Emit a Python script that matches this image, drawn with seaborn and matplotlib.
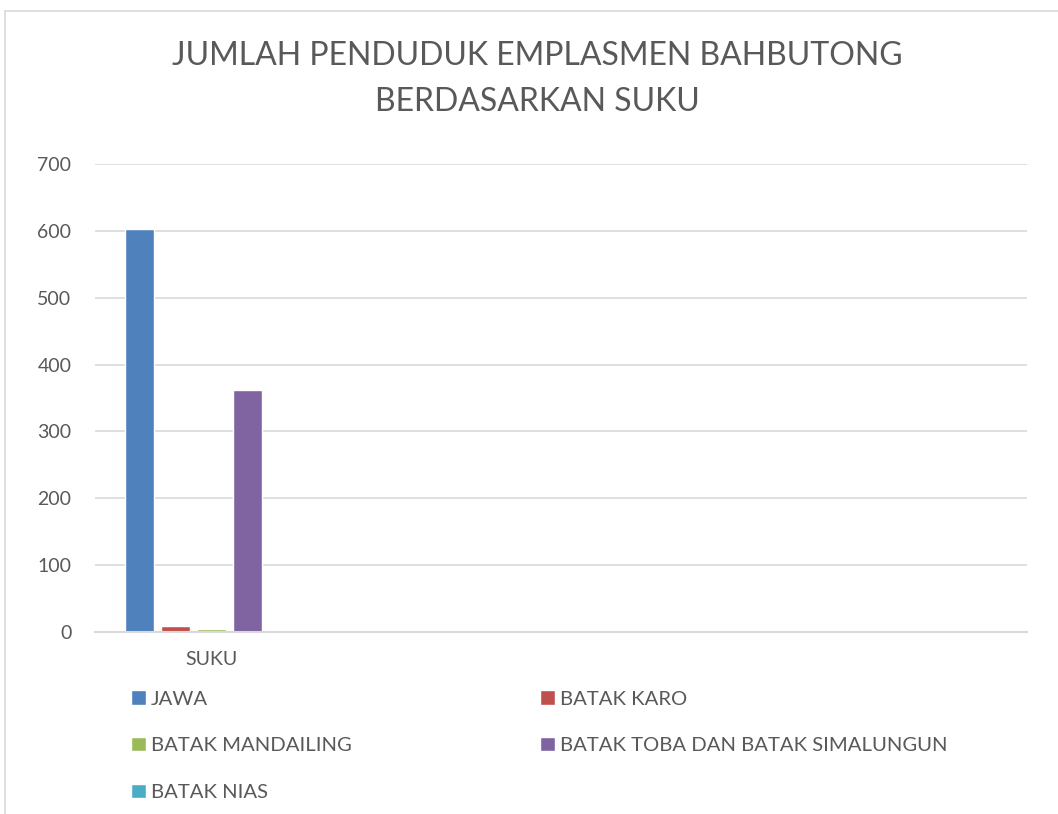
import pandas as pd
import seaborn as sns
import matplotlib.pyplot as plt
from matplotlib.lines import Line2D

# data
kategori = ['SUKU']
suku = ['JAWA', 'BATAK KARO', 'BATAK MANDAILING',
        'BATAK TOBA DAN BATAK SIMALUNGUN', 'BATAK NIAS']
jumlah = [603, 9, 4, 362, 0]
warna = ['#4f81bd', '#c0504d', '#9bbb59', '#8064a2', '#4bacc6']
yticks = [0, 100, 200, 300, 400, 500, 600, 700]

df = pd.DataFrame({'kategori': kategori * len(suku), 'suku': suku, 'jumlah': jumlah})

sns.set_style('white')
plt.rcParams['font.family'] = ['Lato', 'DejaVu Sans']
grey = '#595959'

fig = plt.figure(figsize=(10.58, 8.14), dpi=100)
ax = fig.add_axes([95 / 1058, 182 / 814, 932 / 1058, 468 / 814])

sns.barplot(data=df, x='kategori', y='jumlah', hue='suku', hue_order=suku,
            palette=warna, width=0.77, gap=0.2, saturation=1, ax=ax)

ax.set_xlim(-0.5, 3.5)
ax.set_ylim(0, 700)
ax.set_yticks(yticks)
ax.yaxis.grid(True, color='#d9d9d9', linewidth=1.2)
ax.set_axisbelow(True)
for s in ['left', 'right', 'top']:
    ax.spines[s].set_visible(False)
ax.spines['bottom'].set_color('#d9d9d9')
ax.spines['bottom'].set_linewidth(1.5)
ax.tick_params(axis='both', length=0, labelsize=14, labelcolor=grey)
ax.tick_params(axis='y', pad=17)
ax.tick_params(axis='x', pad=14)
ax.set_xlabel('')
ax.set_ylabel('')

# legend in row order like the original (matplotlib fills by column)
handles, labels = ax.get_legend_handles_labels()
ax.get_legend().remove()
urutan = [0, 2, 4, 1, 3]
fig.legend([handles[i] for i in urutan], [labels[i] for i in urutan],
           ncol=2, loc='upper left', bbox_to_anchor=(113 / 1058, 1 - 672 / 814),
           frameon=False, fontsize=14.6, labelcolor=grey,
           handlelength=0.72, handleheight=0.72, handletextpad=0.25,
           columnspacing=9.3, labelspacing=1.45)

fig.text(537 / 1058, 1 - 79 / 814,
         'JUMLAH PENDUDUK EMPLASMEN BAHBUTONG\nBERDASARKAN SUKU',
         ha='center', va='center', fontsize=23, color=grey, linespacing=1.7)

# chart frame (only left and top edges are visible)
fig.add_artist(Line2D([4.5 / 1058, 4.5 / 1058], [0, 1 - 11 / 814],
                      transform=fig.transFigure, color='#d9d9d9', linewidth=1.2))
fig.add_artist(Line2D([4.5 / 1058, 1], [1 - 11 / 814, 1 - 11 / 814],
                      transform=fig.transFigure, color='#d9d9d9', linewidth=1.2))

fig.savefig('out.png', dpi=100)
